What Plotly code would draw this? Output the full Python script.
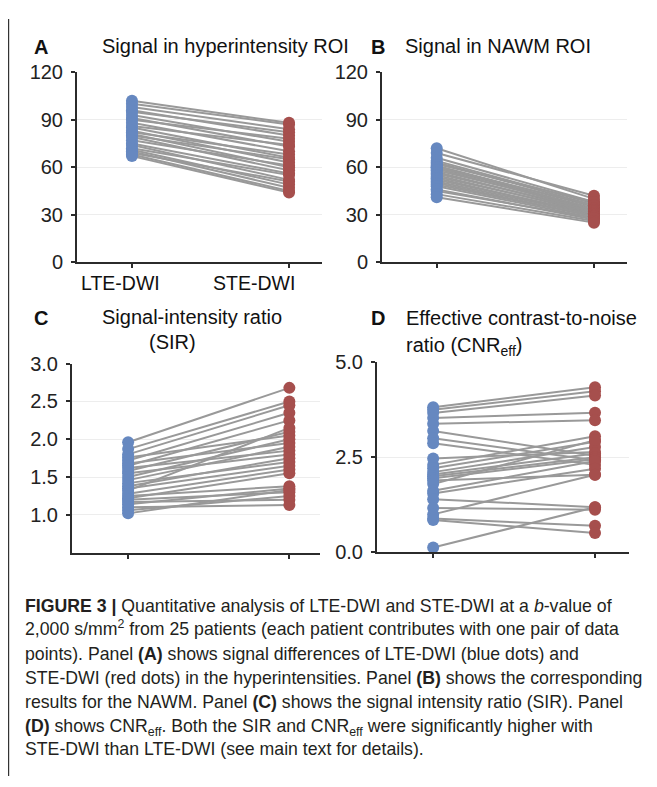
import plotly.graph_objects as go

# page body has an 8px margin, so the figure is drawn 8px in from the window edge
OFF = 8
W, H = 657 - OFF, 787 - OFF

# ---------------- data ----------------
groups = ["LTE-DWI", "STE-DWI"]

hyper_lte = [102, 100, 98, 96, 95, 93, 91, 90, 88, 86, 85, 83, 82, 81, 80, 79, 77, 75, 74, 72, 71, 70, 69, 68, 67]
hyper_ste = [88, 87, 84, 80, 82, 76, 73, 78, 70, 74, 66, 63, 68, 60, 65, 58, 61, 56, 52, 55, 49, 47, 51, 45, 44]

nawm_lte = [72, 69, 66, 64, 63, 62, 61, 60, 60, 59, 58, 57, 56, 55, 54, 53, 52, 51, 50, 49, 48, 46, 45, 43, 41]
nawm_ste = [40, 42, 38, 37, 36, 38, 35, 34, 36, 33, 34, 32, 33, 31, 32, 30, 31, 30, 29, 29, 28, 27, 28, 26, 25]

sir_lte = [1.96, 1.87, 1.80, 1.76, 1.72, 1.68, 1.65, 1.62, 1.58, 1.55, 1.50, 1.46, 1.42, 1.38, 1.35,
           1.32, 1.28, 1.25, 1.22, 1.20, 1.17, 1.14, 1.10, 1.06, 1.02]
sir_ste = [2.68, 2.50, 2.45, 2.05, 2.35, 1.95, 2.25, 1.85, 2.10, 1.80, 2.00, 1.90, 1.70, 1.75, 1.65,
           2.15, 1.60, 1.38, 1.55, 1.30, 1.20, 1.35, 1.13, 1.25, 1.33]

cnr_lte = [3.81, 3.75, 3.66, 3.53, 3.38, 3.19, 3.00, 2.87, 2.47, 2.30, 2.21, 2.11, 2.05, 2.00, 1.95,
           1.89, 1.80, 1.62, 1.55, 1.40, 1.17, 1.00, 0.89, 0.85, 0.13]
cnr_ste = [4.34, 4.23, 4.12, 3.67, 3.47, 2.54, 2.42, 2.30, 2.64, 3.05, 2.91, 2.77, 2.60, 2.50, 2.45,
           2.04, 2.95, 2.40, 2.20, 1.19, 1.12, 2.04, 0.70, 0.51, 1.19]

tick_A = [0, 30, 60, 90, 120]
tick_C = [1.0, 1.5, 2.0, 2.5, 3.0]
tick_D = [0.0, 2.5, 5.0]

# ---------------- style ----------------
BLUE = "#6688c0"
RED = "#a64f4d"
GREY = "#999999"
AX = "#2b2b2b"
FONT = "Liberation Sans, Arial, Helvetica, sans-serif"


def fx(p):
    return (p - OFF) / W


def fy(p):
    return 1 - (p - OFF) / H


panels = [
    dict(box=(77, 322, 62.7, 258.3), xr=[-0.35, 1.21], yr=[0, 120], tv=tick_A, fmt="d",
         lte=hyper_lte, ste=hyper_ste),
    dict(box=(382, 627, 62.7, 258.3), xr=[-0.348, 1.21], yr=[0, 120], tv=tick_A, fmt="d",
         lte=nawm_lte, ste=nawm_ste),
    dict(box=(72, 320, 362.7, 557.2), xr=[-0.348, 1.19], yr=[0.5, 3.0], tv=tick_C, fmt=".1f",
         lte=sir_lte, ste=sir_ste),
    dict(box=(377, 629, 361, 557), xr=[-0.347, 1.21], yr=[0, 5], tv=tick_D, fmt=".1f",
         lte=cnr_lte, ste=cnr_ste),
]

fig = go.Figure()
layout = {}
for i, p in enumerate(panels):
    n = "" if i == 0 else str(i + 1)
    x0, x1, yt, yb = p["box"]
    layout["xaxis" + n] = dict(
        domain=[fx(x0), fx(x1)], range=p["xr"], anchor="y" + n,
        tickvals=[0, 1], showticklabels=False, ticks="outside", ticklen=4,
        tickwidth=1.5, tickcolor=AX, showline=True, linecolor=AX, linewidth=2,
        showgrid=False, zeroline=False, fixedrange=True,
    )
    layout["yaxis" + n] = dict(
        domain=[fy(yb), fy(yt)], range=p["yr"], anchor="x" + n,
        tickvals=p["tv"], tickformat=p["fmt"], ticks="outside", ticklen=4,
        tickwidth=1.5, tickcolor=AX, showline=True, linecolor=AX, linewidth=2,
        showgrid=True, gridcolor="#ededed", gridwidth=1, zeroline=False,
        ticklabelstandoff=4,
        tickfont=dict(family=FONT, size=20, color="#222222"), fixedrange=True,
    )
    lx, ly = [], []
    for a, b in zip(p["lte"], p["ste"]):
        lx += [0, 1, None]
        ly += [a, b, None]
    xa, ya = "x" + n, "y" + n
    fig.add_trace(go.Scatter(x=lx, y=ly, mode="lines", line=dict(color=GREY, width=2),
                             xaxis=xa, yaxis=ya, showlegend=False, hoverinfo="skip",
                             cliponaxis=False))
    fig.add_trace(go.Scatter(x=[0] * len(p["lte"]), y=p["lte"], mode="markers",
                             marker=dict(color=BLUE, size=12, line=dict(width=0)),
                             xaxis=xa, yaxis=ya, showlegend=False, name=groups[0],
                             cliponaxis=False))
    fig.add_trace(go.Scatter(x=[1] * len(p["ste"]), y=p["ste"], mode="markers",
                             marker=dict(color=RED, size=12, line=dict(width=0)),
                             xaxis=xa, yaxis=ya, showlegend=False, name=groups[1],
                             cliponaxis=False))

ann = []


def text(x, y, s, size=20, anchor="left", bold=False, color="#111111", yshift=0):
    ann.append(dict(x=fx(x), y=fy(y), xref="paper", yref="paper", text=(f"<b>{s}</b>" if bold else s),
                    showarrow=False, xanchor=anchor, yanchor="middle", yshift=yshift,
                    font=dict(family=family_default, size=size, color=color)))


family_default = FONT

# panel letters and titles
text(40.7, 37, "A", anchor="center", bold=True)
text(99.5, 35.5, "Signal in hyperintensity ROI")
text(377.5, 37, "B", anchor="center", bold=True)
text(402.5, 35.5, "Signal in NAWM ROI")
text(40.5, 316, "C", anchor="center", bold=True)
text(192.5, 314.5, "Signal-intensity ratio", anchor="center")
text(172.5, 340, "(SIR)", anchor="center")
text(378, 316, "D", anchor="center", bold=True)
text(403.5, 316, "Effective contrast-to-noise")
text(403.5, 343, "ratio (CNR<sub>eff</sub>)", yshift=-2)

# category labels (panel A)
text(120, 280, groups[0], size=19.5, anchor="center")
text(254, 280, groups[1], size=19.5, anchor="center")

# caption
cap_lines = [
    "<b>FIGURE 3 |</b> Quantitative analysis of LTE-DWI and STE-DWI at a <i>b</i>-value of",
    "2,000 s/mm<sup>2</sup> from 25 patients (each patient contributes with one pair of data",
    "points). Panel <b>(A)</b> shows signal differences of LTE-DWI (blue dots) and",
    "STE-DWI (red dots) in the hyperintensities. Panel <b>(B)</b> shows the corresponding",
    "results for the NAWM. Panel <b>(C)</b> shows the signal intensity ratio (SIR). Panel",
    "<b>(D)</b> shows CNR<sub>eff</sub>. Both the SIR and CNR<sub>eff</sub> were significantly higher with",
    "STE-DWI than LTE-DWI (see main text for details).",
]
shifts = [0, 2, 0, 0, 0, -2, 0]
for k, line in enumerate(cap_lines):
    text(23, 612 + k * 24.6, line, size=17.7, color="#231f20", yshift=shifts[k])

layout.update(
    width=W, height=H, margin=dict(l=0, r=0, t=0, b=0),
    paper_bgcolor="white", plot_bgcolor="white", annotations=ann,
    shapes=[dict(type="line", xref="paper", yref="paper", x0=fx(8.6), x1=fx(8.6), y0=0, y1=1,
                 line=dict(color="#333333", width=1.2))],
    showlegend=False,
)
fig.update_layout(**layout)
fig.write_html("out.html")
